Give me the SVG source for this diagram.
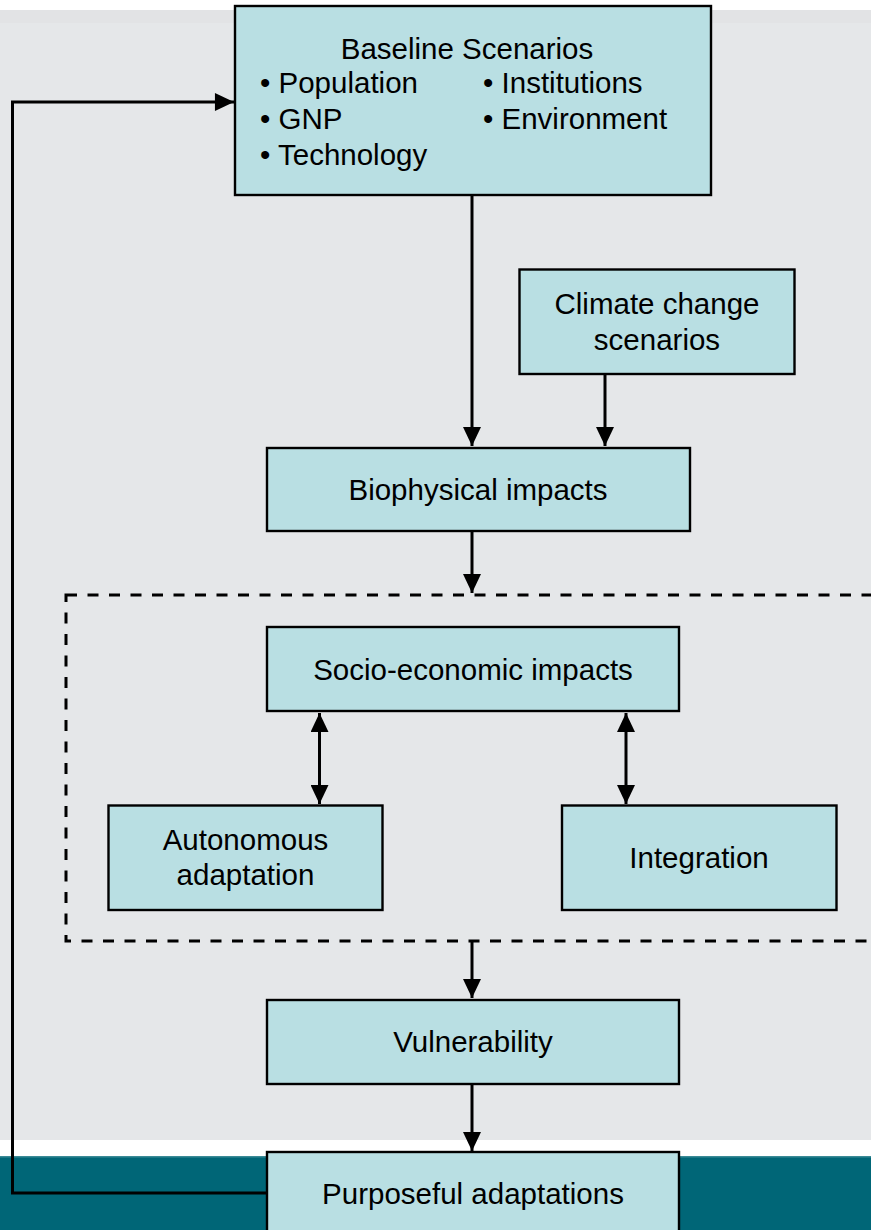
<svg xmlns="http://www.w3.org/2000/svg" width="871" height="1230" viewBox="0 0 871 1230">
<style>
.node{fill:#b9dfe3;stroke:#000;stroke-width:2.4}
.t{font-family:"Liberation Sans",Arial,sans-serif;font-size:29.5px;fill:#000}
.c{text-anchor:middle}
.ln{fill:none;stroke:#000;stroke-width:3}
</style>
<defs>
<marker id="ah" markerUnits="userSpaceOnUse" markerWidth="20" markerHeight="18" refX="18" refY="8.5" orient="auto-start-reverse" viewBox="0 0 18 17">
<path d="M0,0 L18,8.5 L0,17 Z" fill="#000"/>
</marker>
</defs>
<rect x="0" y="0" width="871" height="1230" fill="#fff"/>
<rect x="0" y="10" width="871" height="1130" fill="#e5e7e9"/>
<rect x="0" y="10" width="871" height="13" fill="#e2e3e5"/>
<rect x="0" y="1156" width="871" height="74" fill="#006677"/>
<rect x="0" y="1156" width="871" height="1.5" fill="#3a8a96"/>
<rect id="dashed-group" x="66" y="595" width="840" height="346" fill="none" stroke="#000" stroke-width="3" stroke-dasharray="11,10.5"/>
<g id="connectors">
<path class="ln" d="M472,195 V446" marker-end="url(#ah)"/>
<path class="ln" d="M605,374 V446" marker-end="url(#ah)"/>
<path class="ln" d="M472,531 V593" marker-end="url(#ah)"/>
<path class="ln" d="M319.5,713 V804" marker-start="url(#ah)" marker-end="url(#ah)"/>
<path class="ln" d="M626,713 V804" marker-start="url(#ah)" marker-end="url(#ah)"/>
<path class="ln" d="M472,941 V998" marker-end="url(#ah)"/>
<path class="ln" d="M472,1084 V1151" marker-end="url(#ah)"/>
<path class="ln" d="M267,1193 H12.5 V102 H234" marker-end="url(#ah)"/>
</g>
<g id="baseline">
<rect class="node" x="235" y="6" width="476" height="189"/>
<text class="t c" x="467" y="59">Baseline Scenarios</text>
<text class="t" x="260" y="93">• Population</text>
<text class="t" x="260" y="129">• GNP</text>
<text class="t" x="260" y="165">• Technology</text>
<text class="t" x="483" y="93">• Institutions</text>
<text class="t" x="483" y="129">• Environment</text>
</g>
<g id="climate">
<rect class="node" x="519.5" y="269.5" width="275" height="104.5"/>
<text class="t c" x="657" y="314">Climate change</text>
<text class="t c" x="657" y="350">scenarios</text>
</g>
<g id="biophysical">
<rect class="node" x="267" y="448" width="423" height="83"/>
<text class="t c" x="478" y="500">Biophysical impacts</text>
</g>
<g id="socio">
<rect class="node" x="267" y="627" width="412" height="84"/>
<text class="t c" x="473" y="680">Socio-economic impacts</text>
</g>
<g id="autonomous">
<rect class="node" x="108.5" y="805.5" width="274" height="104.5"/>
<text class="t c" x="245.5" y="850">Autonomous</text>
<text class="t c" x="245.5" y="885">adaptation</text>
</g>
<g id="integration">
<rect class="node" x="562" y="805.5" width="274.5" height="104.5"/>
<text class="t c" x="699" y="868">Integration</text>
</g>
<g id="vulnerability">
<rect class="node" x="267" y="1000" width="412" height="84"/>
<text class="t c" x="473" y="1052">Vulnerability</text>
</g>
<g id="purposeful">
<rect class="node" x="267" y="1152" width="412" height="90"/>
<text class="t c" x="473" y="1204">Purposeful adaptations</text>
</g>
</svg>
